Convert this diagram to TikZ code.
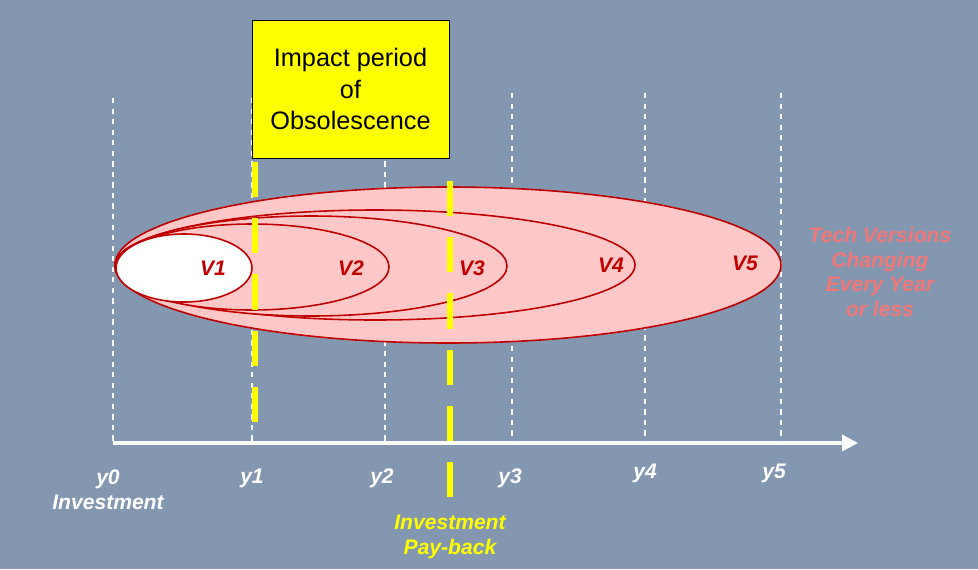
\documentclass[tikz,border=0pt]{standalone}
\usepackage{fontspec}
\setmainfont{Liberation Sans}
\usetikzlibrary{arrows.meta, positioning}
\definecolor{Slate}{RGB}{132, 151, 176}
\definecolor{VerRed}{RGB}{192, 0, 0}
\definecolor{VerFill}{RGB}{255, 200, 200}
\definecolor{TechPink}{RGB}{240, 120, 120}
\definecolor{PayYellow}{RGB}{255, 255, 0}
\begin{document}
\begin{tikzpicture}[
        x=0.02cm, y=-0.02cm,
        version/.style={draw=VerRed, fill=VerFill, line width=0.9pt},
        vlabel/.style={text=VerRed, font=\large\bfseries\itshape},
        ylabel/.style={text=white, font=\large\bfseries\itshape, align=center},
        grid/.style={draw=white, dashed, line width=0.7pt},
        payline/.style={draw=PayYellow, line width=3pt, dash pattern=on 20pt off 12pt}
    ]
        \fill[Slate] (0,0) rectangle (978,569);
        \useasboundingbox (0,0) rectangle (978,569);

        % year grid
        \foreach \x/\t in {113/98, 252/98, 385/98, 512/93, 645/93, 781/93}
            \draw[grid] (\x,\t) -- (\x,443);
        \coordinate (axs) at (113,443);
        \coordinate (axe) at (858,443);
        \draw[white, line width=2pt, -{Triangle[length=9pt, width=9pt]}] (axs) -- (axe);

        % versions
        \draw[version] (448,265) ellipse [x radius=333, y radius=78];
        \draw[version] (375,265) ellipse [x radius=260, y radius=55];
        \draw[version] (311,266) ellipse [x radius=196, y radius=50];
        \draw[version] (252,267) ellipse [x radius=137, y radius=43];
        \draw[draw=VerRed, fill=white, line width=0.9pt] (184,268) ellipse [x radius=68, y radius=34];
        \node[vlabel] (v1) at (213,268) {V1};
        \node[vlabel] (v2) at (351,268) {V2};
        \node[vlabel] (v3) at (472,268) {V3};
        \node[vlabel] (v4) at (611,265) {V4};
        \node[vlabel] (v5) at (745,263) {V5};

        % obsolescence box and pay-back
        \node[draw=black, fill=PayYellow, minimum width=197*0.02cm, minimum height=138*0.02cm,
              align=center, font=\Large] (impact) at (350.5,89) {Impact period\\of\\Obsolescence};
        \coordinate (obsb) at (255,440);
        \draw[payline] (255,162) -- (obsb);
        \coordinate (payb) at (450,500);
        \draw[payline] (450,181) -- (payb);

        % labels
        \node[ylabel] (y0) at (108,490) {y0\\Investment};
        \node[ylabel] (y1) at (252,478) {y1};
        \node[ylabel] (y2) at (382,478) {y2};
        \node[ylabel] (y3) at (510,478) {y3};
        \node[ylabel] (y4) at (645,473) {y4};
        \node[ylabel] (y5) at (774,473) {y5};
        \node[ylabel, text=PayYellow] (pay) at (450,537) {Investment\\Pay-back};
        \node[ylabel, text=TechPink, font=\large\bfseries\itshape] (tech) at (880,272)
            {Tech Versions\\Changing\\Every Year\\or less};
    \end{tikzpicture}
\end{document}
